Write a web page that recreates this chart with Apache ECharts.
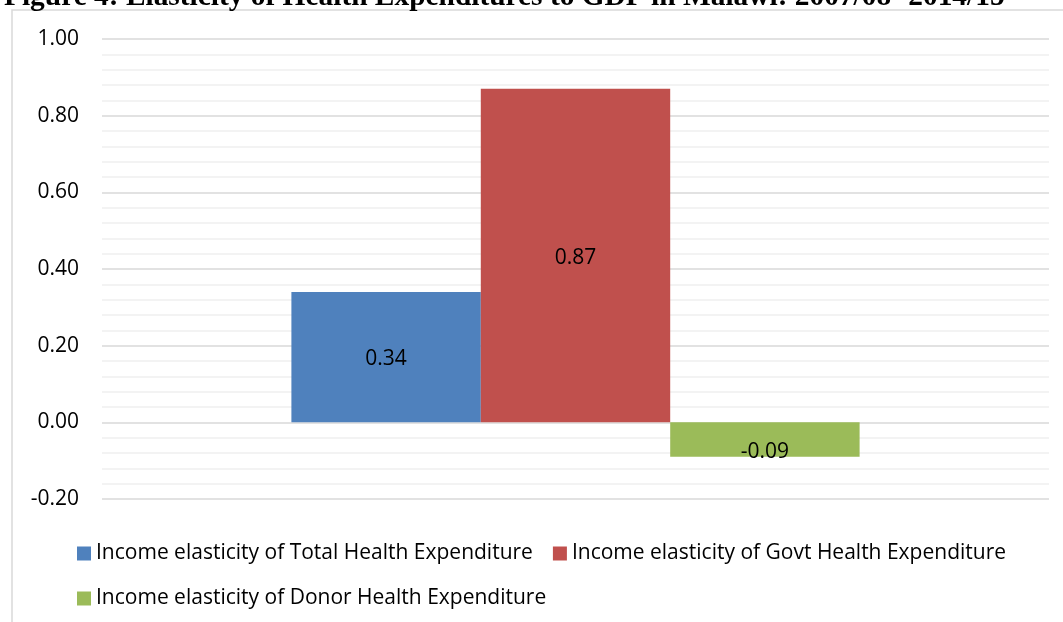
<!DOCTYPE html>
<html>
<head>
<meta charset="utf-8">
<script src="https://cdn.jsdelivr.net/npm/echarts@6/dist/echarts.min.js"></script>
<style>
  html, body { margin: 0; padding: 0; background: #fff; }
  #chart { width: 1063px; height: 622px; }
</style>
</head>
<body>
<div id="chart"></div>
<script>
// Income elasticities of health expenditure with respect to GDP
const categories = ['Malawi 2007/08-2014/15'];
const seriesNames = [
  'Income elasticity of Total Health Expenditure',
  'Income elasticity of Govt Health Expenditure',
  'Income elasticity of Donor Health Expenditure'
];
const totalValues = [0.34];
const govtValues = [0.87];
const donorValues = [-0.09];
const seriesColors = ['#4f81bd', '#c0504d', '#9bbb59'];
const titleText = 'Figure 4: Elasticity of Health Expenditures to GDP in Malawi: 2007/08 -2014/15';

const font = '"Open Sans", "Noto Sans", sans-serif';
const chart = echarts.init(document.getElementById('chart'), null, { renderer: 'canvas' });

function barSeries(name, data, color, labelOffset) {
  return {
    name: name,
    type: 'bar',
    data: data,
    barGap: '0%',
    barCategoryGap: '40%',
    itemStyle: { color: color },
    label: {
      show: true,
      position: 'inside',
      offset: labelOffset,
      color: '#000',
      fontFamily: font,
      fontSize: 21,
      formatter: p => p.value.toFixed(2)
    },
    emphasis: { disabled: true }
  };
}

chart.setOption({
  animation: false,
  textStyle: { fontFamily: font },
  graphic: [
    {
      type: 'rect',
      shape: { x: 12, y: 10, width: 1200, height: 800 },
      style: { fill: 'none', stroke: '#d9d9d9', lineWidth: 1.5 },
      silent: true
    },
    {
      type: 'text',
      x: 4, y: 12,
      style: {
        text: titleText,
        font: 'bold 29.4px "Liberation Serif", "Times New Roman", serif',
        fill: '#000',
        verticalAlign: 'bottom'
      },
      silent: true
    }
  ],
  grid: { left: 102, right: 14, top: 39, bottom: 123, containLabel: false },
  xAxis: {
    type: 'category',
    data: categories,
    axisLine: { show: false },
    axisTick: { show: false },
    axisLabel: { show: false },
    splitLine: { show: false }
  },
  yAxis: {
    type: 'value',
    min: -0.2,
    max: 1.0,
    interval: 0.2,
    axisLine: { show: false },
    axisTick: { show: false },
    axisLabel: {
      color: '#000',
      fontFamily: font,
      fontSize: 21,
      margin: 23,
      formatter: v => v.toFixed(2)
    },
    splitLine: { show: true, lineStyle: { color: '#d9d9d9', width: 1.5 } },
    minorTick: { show: false, splitNumber: 5 },
    minorSplitLine: { show: true, lineStyle: { color: '#f0f0f0', width: 1.5 } }
  },
  legend: {
    left: 72,
    top: 536,
    width: 960,
    itemWidth: 14,
    itemHeight: 14,
    itemGap: 20,
    icon: 'rect',
    textStyle: { color: '#000', fontFamily: font, fontSize: 21, lineHeight: 25 },
    data: seriesNames
  },
  series: [
    barSeries(seriesNames[0], totalValues, seriesColors[0], [0, 2]),
    barSeries(seriesNames[1], govtValues, seriesColors[1], [0, 2]),
    barSeries(seriesNames[2], donorValues, seriesColors[2], [0, 12])
  ]
});
</script>
</body>
</html>
